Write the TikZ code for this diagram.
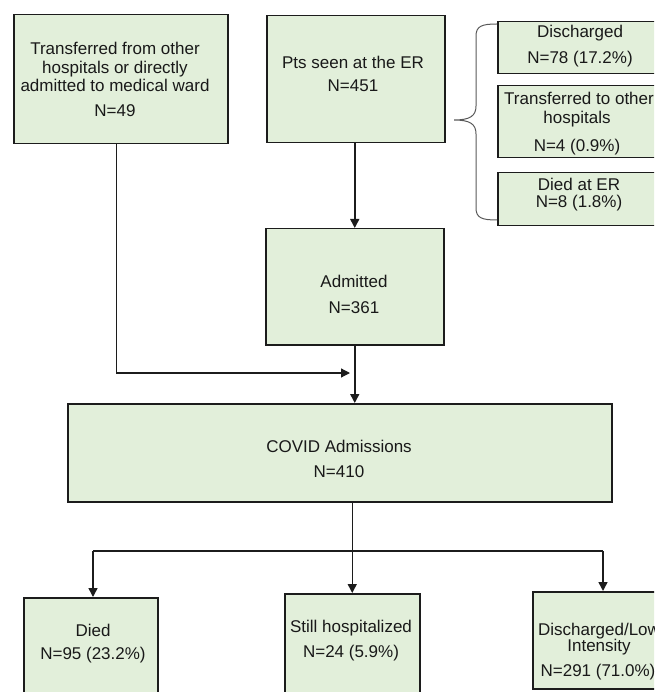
\documentclass[tikz,border=0pt]{standalone}
\usepackage{fontspec}
\setmainfont{Liberation Sans}
\usetikzlibrary{arrows.meta}
\definecolor{boxfill}{RGB}{226,239,218}
\definecolor{boxline}{RGB}{28,28,28}
\begin{document}
\begin{tikzpicture}[x=1pt,y=-1pt,
  box/.style={draw=boxline, fill=boxfill, line width=1.5pt, inner sep=0pt, anchor=north west},
  txt/.style={anchor=base, inner sep=0pt, font=\fontsize{17}{19}\selectfont, text=black!90},
  arr/.style={draw=boxline, line width=1.5pt, -{Triangle[length=9pt,width=9pt]}},
  ln/.style={draw=boxline, line width=1.5pt},
  bracestyle/.style={draw=black!65, line width=1pt}]
\useasboundingbox (0,0) rectangle (654,692);
\clip (0,0) rectangle (654,692);

% boxes
\node[box, minimum width=214pt, minimum height=129pt] (T) at (13,14) {};
\node[box, minimum width=178pt, minimum height=127pt] (ER) at (266,15) {};
\node[box, minimum width=166pt, minimum height=52pt] (Dis) at (497,21) {};
\node[box, minimum width=166pt, minimum height=72pt] (Tr) at (497,85) {};
\node[box, minimum width=166pt, minimum height=53pt] (DER) at (497,172) {};
\node[box, minimum width=178pt, minimum height=116pt] (Adm) at (265,228) {};
\node[box, minimum width=544pt, minimum height=98pt] (COV) at (67,403) {};
\node[box, minimum width=134pt, minimum height=110pt] (Died) at (23,597) {};
\node[box, minimum width=135pt, minimum height=110pt] (Still) at (284,593) {};
\node[box, minimum width=135pt, minimum height=97pt] (DL) at (532,591) {};

% texts
\node[txt] (t1) at (115,55) {Transferred from other};
\node[txt] (t2) at (115,74) {hospitals or directly};
\node[txt] (t3) at (115,92) {admitted to medical ward};
\node[txt] (t4) at (115,117) {N=49};

\node[txt] (e1) at (353,69) {Pts seen at the ER};
\node[txt] (e2) at (353,92) {N=451};

\node[txt] (d1) at (580,38) {Discharged};
\node[txt] (d2) at (580,64) {N=78 (17.2\%)};

\node[txt] (r1) at (579,105) {Transferred to other};
\node[txt] (r2) at (577,124) {hospitals};
\node[txt] (r3) at (577,152) {N=4 (0.9\%)};

\node[txt] (x1) at (579,191) {Died at ER};
\node[txt] (x2) at (579,208) {N=8 (1.8\%)};

\node[txt] (a1) at (354,287) {Admitted};
\node[txt] (a2) at (354,313) {N=361};

\node[txt] (c1) at (339,452) {COVID Admissions};
\node[txt] (c2) at (339,477) {N=410};

\node[txt] (o1) at (93,636) {Died};
\node[txt] (o2) at (93,659) {N=95 (23.2\%)};

\node[txt] (s1) at (351,632) {Still hospitalized};
\node[txt] (s2) at (351,657) {N=24 (5.9\%)};

\node[txt] (l1) at (599,635) {Discharged/Low};
\node[txt] (l2) at (599,651) {Intensity};
\node[txt] (l3) at (598,676) {N=291 (71.0\%)};

% connectors
\coordinate (tx) at (116.5,0);
\coordinate (jn) at (350,373);
\draw[arr, line width=1.2pt] (T.south -| tx) |- (jn);
\draw[arr] (ER.south -| Adm.north) -- (Adm.north);
\draw[arr] (Adm.south) -- (Adm.south |- COV.north);
\draw[arr] (COV.south -| Still.north) -- (Still.north);
\coordinate (hl) at (93,551);
\coordinate (hr) at (603,551);
\draw[ln] (hl) -- (hr);
\draw[arr] (hl) -- (hl |- Died.north);
\draw[arr] (hr) -- (hr |- DL.north);

% brace
\coordinate (bt) at (497,24);
\coordinate (bb) at (497,220);
\coordinate (btip) at (454,120);
\draw[bracestyle] (bt) .. controls (482,24) and (476,26) .. (476,36) -- (476,106)
  .. controls (476,116) and (470,120) .. (btip)
  .. controls (470,120) and (476,124) .. (476,134) -- (476,208)
  .. controls (476,218) and (482,220) .. (bb);
\end{tikzpicture}
\end{document}
